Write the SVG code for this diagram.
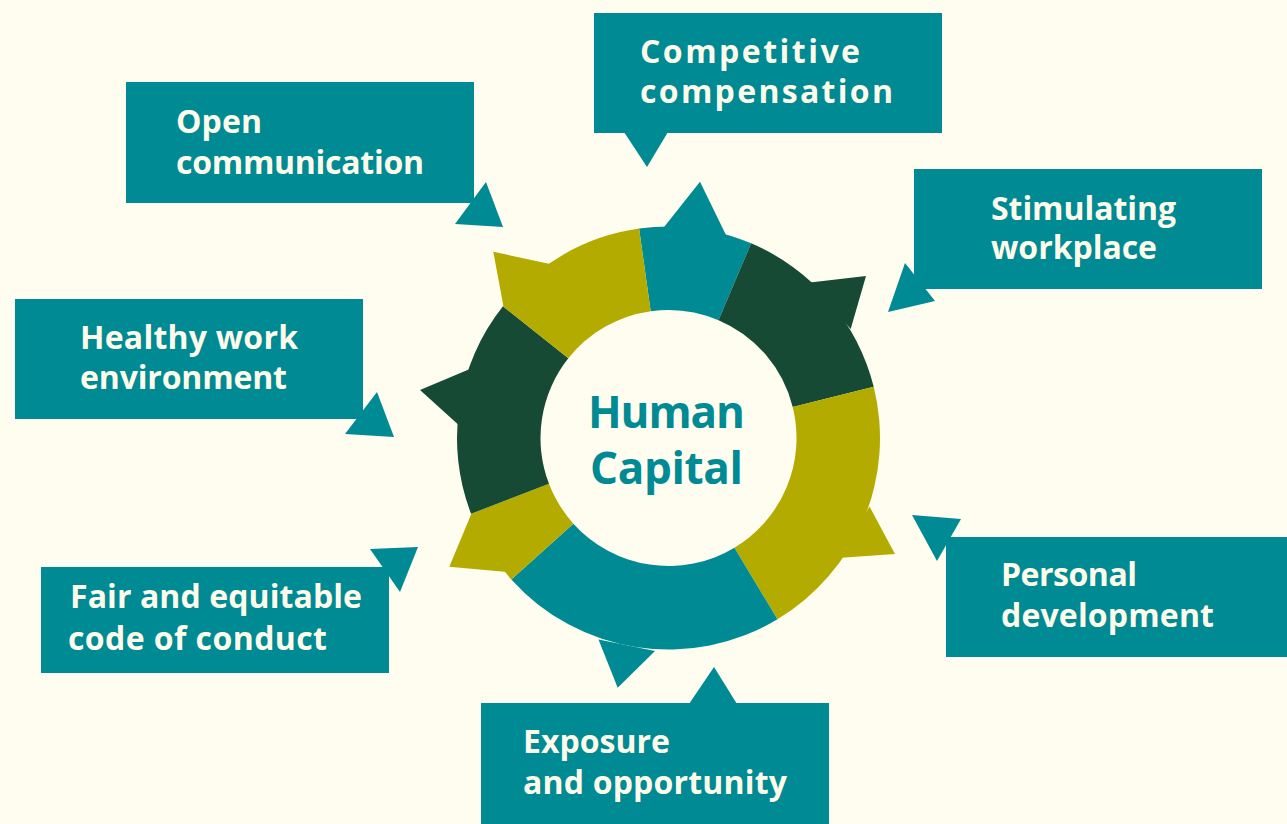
<svg xmlns="http://www.w3.org/2000/svg" width="1287" height="824" viewBox="0 0 1287 824">
<style>
.teal{fill:#008a94}
.dk{fill:#164a35}
.ol{fill:#b3ab00}
.lbl{font-family:"Open Sans","Liberation Sans",sans-serif;font-weight:700;font-size:32px;fill:#fffbea}
.ctr{font-family:"Open Sans","Liberation Sans",sans-serif;font-weight:700;font-size:44px;fill:#008a94}
</style>
<rect x="0" y="0" width="1287" height="824" fill="#fffdf0"/>
<g id="ring">
<path class="teal" d="M639.07,228.56 A211.5,211.5 0 0 1 751.14,243.31 L718.51,320.18 A128,128 0 0 0 650.69,311.25 Z"/>
<path class="dk" d="M751.14,243.31 A211.5,211.5 0 0 1 873.72,386.83 L792.70,407.03 A128,128 0 0 0 718.51,320.18 Z"/>
<path class="ol" d="M873.72,386.83 A211.5,211.5 0 0 1 777.43,619.29 L734.43,547.72 A128,128 0 0 0 792.70,407.03 Z"/>
<path class="teal" d="M777.43,619.29 A211.5,211.5 0 0 1 511.33,579.52 L573.38,523.65 A128,128 0 0 0 734.43,547.72 Z"/>
<path class="ol" d="M511.33,579.52 A211.5,211.5 0 0 1 471.05,513.79 L549.00,483.87 A128,128 0 0 0 573.38,523.65 Z"/>
<path class="dk" d="M471.05,513.79 A211.5,211.5 0 0 1 502.98,306.34 L568.33,358.32 A128,128 0 0 0 549.00,483.87 Z"/>
<path class="ol" d="M502.98,306.34 A211.5,211.5 0 0 1 639.07,228.56 L650.69,311.25 A128,128 0 0 0 568.33,358.32 Z"/>
<polygon class="teal" points="662.7,228.8 700,181.7 726.7,236.5"/>
<polygon class="dk" points="810,282.5 866,276 850.7,329"/>
<polygon class="ol" points="869.5,506.5 895,554 841.2,557.8"/>
<polygon class="teal" points="655,651 617.7,687.7 598.5,639.5"/>
<polygon class="ol" points="507,572 449.3,566.7 471.6,513.3"/>
<polygon class="dk" points="470.5,368.8 420,390 459.8,426"/>
<polygon class="ol" points="503.5,306.5 493.3,251.7 550,264"/>
</g>
<g id="center">
<text class="ctr" x="588" y="428" textLength="157">Human</text>
<text class="ctr" x="590" y="484" textLength="153">Capital</text>
</g>
<g id="connectors">
<polygon class="teal" points="624,132 668,132 647,167"/>
<polygon class="teal" points="486,182 455,224 503,227"/>
<polygon class="teal" points="905,263 888,312 935,301"/>
<polygon class="teal" points="377,392 345,434 394,437"/>
<polygon class="teal" points="370,549 418,547 400,592"/>
<polygon class="teal" points="689,704 737,704 714,667"/>
<polygon class="teal" points="912,515 961,519 937,561"/>
</g>
<g id="competitive-compensation">
<rect class="teal" x="594" y="13" width="348" height="120"/>
<text class="lbl" x="640" y="63" textLength="220">Competitive</text>
<text class="lbl" x="640" y="103" textLength="253">compensation</text>
</g>
<g id="open-communication">
<rect class="teal" x="126" y="82" width="348" height="121"/>
<text class="lbl" x="176" y="133" textLength="86">Open</text>
<text class="lbl" x="176" y="174" textLength="248">communication</text>
</g>
<g id="stimulating-workplace">
<rect class="teal" x="914" y="169" width="348" height="120"/>
<text class="lbl" x="991" y="220" textLength="185">Stimulating</text>
<text class="lbl" x="991" y="259" textLength="166">workplace</text>
</g>
<g id="healthy-work-environment">
<rect class="teal" x="15" y="299" width="348" height="120"/>
<text class="lbl" x="80" y="349" textLength="218">Healthy work</text>
<text class="lbl" x="80" y="389" textLength="207">environment</text>
</g>
<g id="fair-code-of-conduct">
<rect class="teal" x="41" y="567" width="348" height="106"/>
<text class="lbl" x="70" y="608" textLength="292">Fair and equitable</text>
<text class="lbl" x="68" y="650" textLength="259">code of conduct</text>
</g>
<g id="exposure-opportunity">
<rect class="teal" x="481" y="703" width="348" height="121"/>
<text class="lbl" x="523" y="753" textLength="147">Exposure</text>
<text class="lbl" x="523" y="794" textLength="264">and opportunity</text>
</g>
<g id="personal-development">
<rect class="teal" x="946" y="537" width="341" height="120"/>
<text class="lbl" x="1001" y="586" textLength="136">Personal</text>
<text class="lbl" x="1001" y="627" textLength="213">development</text>
</g>
</svg>
